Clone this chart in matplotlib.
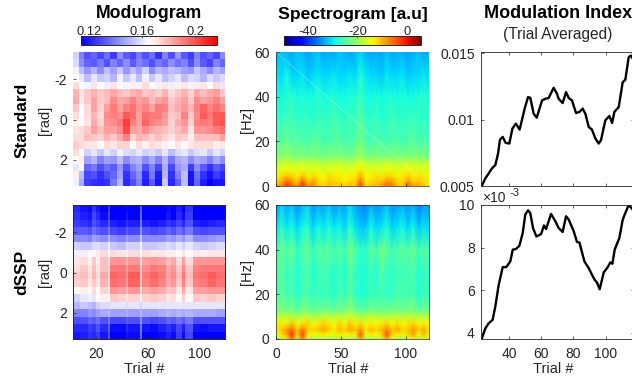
import numpy as np
import matplotlib
matplotlib.use("Agg")
import matplotlib.pyplot as plt
from matplotlib.colors import LinearSegmentedColormap

plt.rcParams['font.family'] = ['Liberation Sans', 'DejaVu Sans']

# Modulogram values, thousandths, 18 phase bins x 24 trial groups
mod_standard = [
[156,140,130,134,128,136,126,142,132,128,138,130,136,124,140,130,144,132,126,140,130,134,128,142],
[158,142,134,132,138,130,140,134,142,132,140,136,130,138,134,142,136,140,130,142,132,128,140,134],
[162,152,144,150,142,152,146,154,144,152,146,156,142,150,148,152,150,146,144,154,148,142,150,146],
[165,160,152,160,154,156,150,162,154,160,152,162,154,160,152,156,160,152,158,156,150,158,154,158],
[172,165,163,170,165,162,170,165,163,168,163,172,165,162,170,162,168,170,163,168,170,165,172,160],
[180,170,176,180,176,178,182,178,176,180,182,176,178,174,180,172,176,180,174,182,178,182,184,176],
[182,168,176,184,176,178,188,182,184,190,184,186,178,184,186,176,180,184,176,188,184,186,190,184],
[176,165,172,184,174,184,192,184,190,194,186,190,184,192,190,178,182,186,180,190,196,190,194,190],
[172,165,172,180,172,188,190,188,198,194,184,194,192,192,186,176,178,190,176,188,198,192,198,198],
[168,166,170,182,174,186,188,192,204,190,184,196,190,188,184,174,182,186,174,190,192,190,198,200],
[170,172,176,184,178,184,184,188,202,184,182,188,182,180,178,174,178,182,170,186,186,188,192,194],
[172,172,178,176,174,180,176,182,190,174,180,178,174,178,174,170,176,174,168,178,178,178,178,184],
[175,172,170,170,166,172,170,174,174,166,172,168,172,170,168,164,170,166,170,172,172,172,168,170],
[172,164,156,160,154,160,156,162,158,156,160,156,158,154,160,152,158,160,154,158,160,154,160,156],
[166,168,146,150,140,146,144,152,142,148,150,142,148,140,150,138,148,150,142,148,146,140,148,142],
[160,166,134,138,130,136,132,144,130,140,146,130,140,128,148,128,144,148,126,142,132,124,132,128],
[168,152,128,130,124,130,134,146,124,134,142,122,138,120,150,124,140,152,118,136,124,118,126,122],
[162,148,126,124,122,124,138,150,122,130,140,120,132,118,154,122,134,152,118,134,120,114,118,118],
]
mod_std_edges = [2,7,11,16,21,26,31,36,41,46,51,56,61,66,71,76,81,86,91,96,101,106,111,116,120]

mod_dssp = [
[122,118,116,124,118,114,126,114,114,116,114,132,114,114,114,116,114,120,114,124,114,114,114,114],
[124,120,118,128,122,116,128,114,114,118,114,134,114,114,114,118,114,122,116,126,114,114,114,114],
[126,124,122,130,126,122,132,120,118,124,120,138,120,118,120,124,122,128,122,130,120,118,120,122],
[132,132,130,136,132,130,138,128,126,132,128,144,130,128,130,134,130,136,132,138,130,128,130,130],
[142,142,140,146,144,142,150,142,140,146,142,154,142,142,142,146,144,148,144,150,142,142,144,146],
[156,154,154,158,158,156,162,154,152,158,156,162,154,154,156,158,156,160,156,160,156,154,156,158],
[162,162,164,166,170,172,166,172,170,168,172,166,172,170,170,168,168,166,170,166,170,168,170,170],
[170,172,168,176,168,178,170,186,186,180,186,172,184,186,184,178,182,172,184,172,186,186,186,186],
[172,176,170,178,170,178,172,192,192,184,192,174,188,192,190,182,186,176,188,176,190,192,192,192],
[176,178,172,180,172,182,174,196,194,186,198,176,192,196,192,184,188,178,192,178,192,194,198,194],
[174,176,170,176,170,180,172,194,192,184,196,176,190,194,190,182,186,176,190,176,190,192,196,192],
[166,168,166,172,166,174,168,186,184,178,186,170,182,184,182,176,178,170,182,170,184,184,186,186],
[156,160,162,160,164,168,164,176,174,170,174,164,174,176,174,170,172,166,174,166,176,174,176,174],
[150,154,152,150,156,158,158,160,160,158,160,156,160,160,160,160,160,160,160,160,160,160,160,160],
[140,140,144,142,146,148,150,146,146,148,146,150,146,146,148,150,148,150,148,150,148,148,148,146],
[130,130,134,132,136,130,138,128,128,132,130,142,130,128,130,134,132,136,132,138,130,130,130,130],
[122,122,126,124,130,122,132,116,116,122,118,138,118,116,120,124,120,128,120,130,118,116,118,118],
[118,120,124,122,126,118,130,114,114,118,116,136,114,114,116,120,116,126,116,128,114,114,114,114],
]
mod_dssp_edges = [2,8,14,17,20,23,29,31,36,43,45,54,56,62,68,74,78,82,87,89,95,101,107,113,120]

# Spectrogram values (dB) at these frequencies, 30 trial groups
spec_freqs = [60, 50, 40, 30, 20, 13, 10, 7, 4, 2, 0]
spec_standard = [
[-33,-32,-33,-34,-32,-33,-34,-33,-32,-34,-33,-34,-32,-33,-34,-33,-31,-33,-34,-33,-34,-32,-34,-33,-33,-34,-33,-32,-34,-33],
[-30,-31,-29,-31,-31,-30,-32,-31,-30,-31,-31,-30,-31,-31,-30,-31,-28,-30,-31,-31,-32,-30,-31,-31,-30,-32,-31,-31,-30,-31],
[-28,-29,-28,-27,-29,-28,-29,-29,-27,-29,-28,-28,-29,-29,-28,-28,-26,-29,-29,-28,-29,-28,-28,-29,-28,-29,-29,-28,-27,-29],
[-27,-27,-26,-26,-27,-27,-26,-28,-26,-27,-27,-25,-27,-27,-26,-27,-24,-27,-27,-26,-28,-27,-26,-27,-27,-27,-26,-27,-27,-27],
[-25,-24,-23,-25,-24,-25,-26,-24,-24,-26,-25,-25,-24,-26,-25,-25,-22,-25,-26,-25,-25,-26,-25,-25,-26,-25,-24,-26,-25,-25],
[-22,-21,-20,-21,-22,-21,-22,-21,-22,-22,-21,-22,-21,-22,-22,-21,-19,-22,-22,-21,-22,-21,-22,-21,-22,-21,-22,-21,-22,-22],
[-18,-17,-16,-17,-17,-16,-17,-17,-17,-18,-17,-17,-16,-18,-17,-17,-15,-17,-17,-17,-17,-16,-17,-17,-17,-16,-17,-17,-17,-17],
[-16,-15,-14,-15,-15,-14,-16,-15,-15,-16,-15,-15,-14,-16,-15,-15,-13,-15,-15,-15,-16,-14,-15,-15,-15,-14,-15,-15,-15,-16],
[-14,-12,-10,-11,-13,-10,-13,-12,-13,-14,-12,-13,-13,-14,-13,-13,-9,-14,-13,-12,-13,-11,-12,-13,-13,-11,-13,-12,-13,-14],
[-12,-10,-6,-8,-11,-5,-11,-9,-12,-13,-11,-12,-12,-13,-12,-12,-6,-13,-12,-11,-11,-8,-9,-12,-12,-8,-12,-11,-12,-13],
[-10,-7,-2,-5,-9,-1,-8,-7,-11,-12,-10,-11,-11,-12,-10,-11,-2,-12,-11,-10,-8,-5,-6,-11,-11,-5,-9,-9,-11,-12],
]
spec_dssp = [
[-35,-31,-34,-32,-35,-33,-31,-35,-33,-34,-32,-35,-33,-34,-31,-34,-35,-36,-33,-35,-34,-32,-35,-34,-33,-35,-33,-36,-34,-35],
[-31,-27,-30,-28,-31,-29,-27,-31,-29,-30,-28,-30,-29,-31,-27,-30,-32,-32,-29,-31,-30,-28,-31,-30,-29,-31,-29,-32,-30,-31],
[-26,-23,-25,-23,-27,-25,-23,-27,-24,-25,-24,-26,-24,-26,-22,-25,-27,-27,-24,-26,-22,-24,-26,-25,-24,-25,-23,-26,-24,-26],
[-26,-24,-27,-25,-28,-26,-25,-28,-26,-26,-26,-28,-26,-28,-24,-27,-28,-28,-26,-28,-24,-27,-27,-26,-26,-26,-25,-28,-26,-27],
[-26,-24,-26,-25,-28,-26,-25,-27,-26,-27,-26,-28,-25,-27,-24,-27,-28,-28,-26,-27,-26,-27,-27,-25,-26,-26,-25,-28,-26,-27],
[-23,-21,-23,-22,-24,-22,-22,-24,-23,-23,-23,-24,-22,-23,-20,-23,-24,-24,-22,-23,-23,-23,-23,-22,-23,-22,-22,-24,-23,-23],
[-19,-17,-18,-18,-19,-18,-17,-19,-18,-18,-17,-18,-17,-18,-16,-18,-19,-18,-17,-18,-18,-18,-18,-17,-18,-17,-18,-18,-18,-18],
[-15,-13,-14,-11,-14,-13,-12,-15,-13,-12,-13,-15,-12,-14,-11,-14,-12,-15,-13,-14,-13,-12,-14,-12,-14,-13,-12,-14,-13,-15],
[-13,-11,-8,-5,-11,-6,-11,-12,-11,-9,-11,-13,-10,-12,-9,-11,-8,-13,-10,-12,-10,-7,-11,-9,-12,-11,-8,-12,-9,-13],
[-15,-13,-9,-2,-12,-3,-13,-14,-14,-13,-14,-15,-13,-14,-13,-14,-4,-15,-13,-14,-12,-4,-12,-13,-14,-12,-9,-14,-10,-15],
[-20,-18,-13,-6,-18,-7,-18,-19,-19,-18,-19,-19,-18,-19,-18,-19,-9,-19,-18,-19,-17,-9,-17,-18,-19,-16,-13,-19,-15,-19],
]

# Modulation index curves
mi_std_trials = [23.2,25.3,27.4,29.4,31.5,33.2,34.4,36.1,37.9,40.2,42.1,44.3,46.6,49.7,51.8,53.2,55.3,57.2,60.5,62.6,64.6,67.7,69.8,70.8,73.3,75.4,77.1,79.1,81.6,83.7,85.7,87.4,89.5,91.5,93.6,95.7,97.1,99.8,102.3,104,105.4,108.1,110.6,112.2,114.3,115.6,116.6]
mi_std_values = [.00503,.00558,.00595,.00633,.00658,.00745,.0085,.0087,.00825,.0082,.00933,.0097,.00925,.01083,.0117,.01165,.01045,.01015,.01145,.01158,.01163,.0124,.01195,.01158,.01125,.01208,.01163,.01145,.0105,.01058,.01083,.01045,.00945,.00925,.00858,.0082,.00845,.00995,.01028,.00975,.01058,.01095,.01283,.013,.0147,.01483,.01465]
mi_dssp_trials = [23.2,25.3,27.4,29.8,31.5,33.6,36.1,38.3,40.8,42.3,44.3,46.4,48.5,50.1,51.8,53.2,54.9,57,59.9,61.7,63,66.1,68.8,70.8,73.3,75.4,77.1,80.2,82.2,83.7,86.8,89.5,91.5,93.2,94.6,96.3,98.8,101.3,102.9,104.2,105.6,108.5,110.6,112.2,114.3,116.6]
mi_dssp_values = [3.74,4.2,4.44,4.6,5.23,6.25,7.08,7.08,7.35,7.9,7.93,8.08,8.68,9.55,9.75,9.62,8.92,8.52,8.63,9.04,8.87,9.58,9.23,8.92,8.73,9.47,9.31,8.76,8.26,8.24,7.35,7.03,6.72,6.48,6.36,6.04,6.83,7.08,7.3,7.24,7.9,8.45,9.31,9.62,10.0,9.8]

W, H = 632, 380
fig = plt.figure(figsize=(W/100, H/100), dpi=100)
def axpx(x0, y0, x1, y1):
    return fig.add_axes([x0/W, 1-y1/H, (x1-x0)/W, (y1-y0)/H])
def txt(x, y, s, **kw):
    kw.setdefault('ha', 'center'); kw.setdefault('va', 'center')
    kw.setdefault('color', '#262626')
    fig.text(x/W, 1-y/H, s, **kw)

GRAY = '#262626'
TICK = 10
def style(ax, lw=0.6):
    ax.tick_params(direction='in', length=2, width=0.5, labelsize=TICK, colors=GRAY,
                   top=False, right=False)
    ax.tick_params(axis='y', pad=4.5)
    ax.tick_params(axis='x', pad=5.5)
    for s in ax.spines.values():
        s.set_linewidth(lw); s.set_color(GRAY)

bwr = LinearSegmentedColormap.from_list('bwr2', ['#0000ff', '#ffffff', '#ff0000'], N=256)
MOD_LIM = (0.114, 0.216)
SPEC_LIM = (-49.5, 5.6)
rows = [(52, 186), (205, 339)]
phase_edges = np.linspace(-3.35, 3.3, 19)

# Modulograms
ims = []
for (y0, y1), m, edges, showx in zip(rows, [mod_standard, mod_dssp], [mod_std_edges, mod_dssp_edges], [False, True]):
    ax = axpx(73, y0, 225, y1)
    im = ax.pcolormesh(edges, phase_edges, np.array(m)/1000, cmap=bwr, vmin=MOD_LIM[0], vmax=MOD_LIM[1],
                       shading='flat', antialiased=False, linewidth=0)
    ax.set_xlim(2.2, 120); ax.set_ylim(3.3, -3.35)
    ims.append(im)
    ax.set_yticks([-2, 0, 2]); ax.set_yticklabels(['-2', '0', '2'])
    ax.set_xticks([20, 60, 100])
    if not showx: ax.set_xticklabels([])
    style(ax, 0.7)
    if not showx:
        for s in ax.spines.values(): s.set_visible(False)
        ax.tick_params(length=0, axis='x')

# Spectrograms
trials = np.linspace(0, 118, 30)
for (y0, y1), m, showx in zip(rows, [spec_standard, spec_dssp], [False, True]):
    ax = axpx(276, y0, 429, y1)
    sp = ax.pcolormesh(trials, spec_freqs, np.array(m, float), cmap='jet', vmin=SPEC_LIM[0],
                       vmax=SPEC_LIM[1], shading='gouraud')
    ax.set_xlim(0, 118); ax.set_ylim(0, 60)
    ax.set_yticks([0, 20, 40, 60]); ax.set_xticks([0, 50, 100])
    if not showx: ax.set_xticklabels([])
    style(ax, 0.5)
    if not showx:
        ax.plot([0, 118], [60, 0], color='white', lw=0.5, alpha=0.35)
        ax.spines['top'].set_visible(False); ax.spines['right'].set_visible(False)

# MI panels
ax = axpx(481, 52, 634, 186)
ax.plot(mi_std_trials, mi_std_values, color='k', lw=1.7)
ax.set_xlim(22.6, 117.6); ax.set_ylim(0.005, 0.0151)
ax.set_yticks([0.005, 0.01, 0.015]); ax.set_yticklabels(['0.005', '0.01', '0.015'])
ax.set_xticks([40, 60, 80, 100]); ax.set_xticklabels([])
style(ax); ax.tick_params(top=True, right=True)

ax = axpx(481, 205, 634, 339)
ax.plot(mi_dssp_trials, mi_dssp_values, color='k', lw=1.7)
ax.set_xlim(22.6, 117.6); ax.set_ylim(3.7, 10)
ax.set_yticks([4, 6, 8, 10]); ax.set_xticks([40, 60, 80, 100])
style(ax); ax.tick_params(top=True, right=True)
txt(482, 198, '\u00d710', ha='left', fontsize=10)
txt(509, 193, '-3', ha='left', fontsize=8)

# Colourbars
for x0, x1, im_, ticks, labels in [(81, 217, ims[0], [0.12, 0.16, 0.2], ['0.12', '0.16', '0.2']),
                                   (284, 421, sp, [-40, -20, 0], ['-40', '-20', '0'])]:
    cax = axpx(x0, 36, x1, 45)
    cb = fig.colorbar(im_, cax=cax, orientation='horizontal')
    cb.set_ticks(ticks); cb.set_ticklabels(labels)
    cax.xaxis.set_ticks_position('top')
    cax.tick_params(direction='in', length=1.5, width=0.4, labelsize=9.3, colors=GRAY, pad=-1.5)
    cb.outline.set_linewidth(0.7); cb.outline.set_edgecolor(GRAY)

# Titles and labels
txt(149, 14, 'Modulogram', fontsize=12.7, fontweight='bold', color='k')
txt(353, 14, 'Spectrogram [a.u]', fontsize=12.6, fontweight='bold', color='k')
txt(558.5, 14, 'Modulation Index', fontsize=13, fontweight='bold', color='k')
txt(558, 35, '(Trial Averaged)', fontsize=11.2)
txt(22, 120, 'Standard', fontsize=12.5, fontweight='bold', color='k', rotation=90)
txt(22, 272, 'dSSP', fontsize=12.5, fontweight='bold', color='k', rotation=90)
txt(45, 120, '[rad]', fontsize=10.5, rotation=90)
txt(45, 272, '[rad]', fontsize=10.5, rotation=90)
txt(247, 120, '[Hz]', fontsize=10.5, rotation=90)
txt(247, 272, '[Hz]', fontsize=10.5, rotation=90)
for x in (144, 348, 553):
    txt(x, 369, 'Trial #', fontsize=10.5)

fig.savefig('out.png', dpi=100)
